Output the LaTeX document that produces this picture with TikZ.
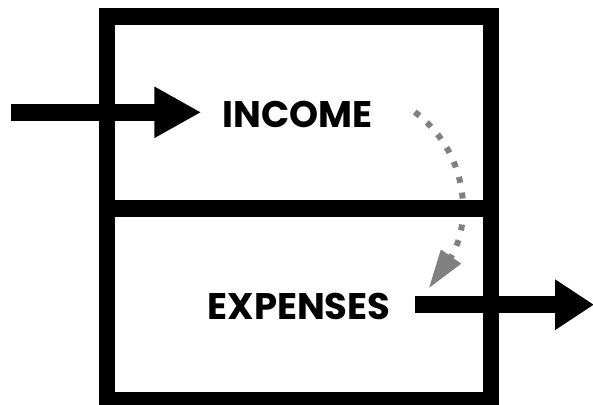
\documentclass[tikz,border=0pt]{standalone}
\usepackage{fontspec}
\setmainfont{Poppins}
\usepackage{tikz}
\usetikzlibrary{arrows.meta}
\definecolor{transfergray}{gray}{0.5}

\begin{document}
\begin{tikzpicture}[x=1pt,y=1pt,
		frame/.style={draw=black,line width=16.5pt},
		flow/.style={draw=black,line width=16.5pt},
		transfer/.style={draw=transfergray,line width=6pt,dash pattern=on 6pt off 10pt},
		account/.style={inner sep=0pt,font=\fontsize{37}{37}\selectfont\bfseries}]
		\useasboundingbox (0,0) rectangle (593,404);
		\node[account] (income)   at (297.5,290) {INCOME};
		\node[account] (expenses) at (299,97.5)  {EXPENSES};
		\coordinate (source)  at (11,291.7);
		\coordinate (sink)    at (594,99.3);
		\coordinate (frame sw) at (107,4);
		\coordinate (frame ne) at (491,387.5);
		\coordinate (divider)  at (0,195.7);
		
		% money moved from income to expenses
		\draw[transfer,-{Triangle[length=39pt,width=23pt,fill=transfergray]}]
		([xshift=42pt,yshift=2pt]income.east) to[out=-37,in=55,looseness=1.05] ([xshift=38pt,yshift=18pt]expenses.east);
		
		\draw[frame] (frame sw) rectangle (frame ne);
		\draw[frame] (frame sw |- divider) -- (frame ne |- divider);
		
		\draw[flow,shorten >=21pt,-{Triangle[length=47pt,width=48pt]}] (source) -- (source -| income.west);
		\draw[flow,shorten <=24pt,-{Triangle[length=39pt,width=48pt]}] (expenses.east |- sink) -- (sink);
		\end{tikzpicture}
\end{document}
